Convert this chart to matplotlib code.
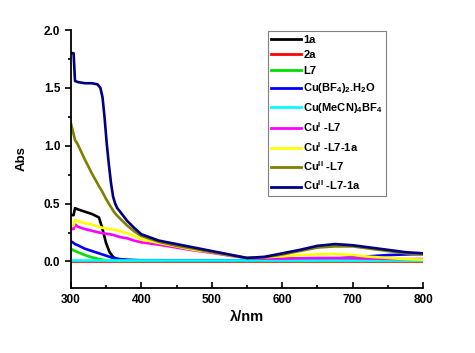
import matplotlib
matplotlib.use('Agg')
import matplotlib.pyplot as plt
from matplotlib.ticker import MultipleLocator

plt.rcParams['font.family'] = ['Liberation Sans', 'DejaVu Sans']
plt.rcParams['font.weight'] = 'bold'
plt.rcParams['mathtext.fontset'] = 'custom'
plt.rcParams['mathtext.rm'] = 'Liberation Sans:bold'
plt.rcParams['mathtext.it'] = 'Liberation Sans:bold'
plt.rcParams['mathtext.default'] = 'regular'

# wavelength grid (nm)
wl = [300, 304, 306, 310, 320, 330, 340, 345, 350, 355, 360, 365, 370, 380, 390, 400,
      425, 450, 475, 500, 525, 550, 575, 600, 625, 650, 675, 700, 725, 750, 775, 800]
# finer grid for the Cu(II)-L7-1a band edge
wl_fine = [300, 304, 306, 310, 320, 330, 338, 342, 345, 348, 351, 354, 357, 360, 363, 366, 370, 380, 390, 400,
           425, 450, 475, 500, 525, 550, 575, 600, 625, 650, 675, 700, 725, 750, 775, 800]

abs_1a = [0.40, 0.40, 0.46, 0.45, 0.43, 0.41, 0.38, 0.28, 0.16, 0.08, 0.04, 0.02, 0.012, 0.01, 0.01, 0.01,
          0.01, 0.01, 0.01, 0.01, 0.01, 0.01, 0.01, 0.01, 0.01, 0.01, 0.01, 0.01, 0.01, 0.01, 0.01, 0.01]
abs_2a = [0.0] * len(wl)
abs_L7 = [0.11, 0.095, 0.09, 0.08, 0.055, 0.035, 0.02, 0.015, 0.01, 0.007, 0.005, 0.005, 0.005, 0.005, 0.005, 0.005,
          0.005, 0.005, 0.005, 0.005, 0.005, 0.005, 0.005, 0.005, 0.005, 0.005, 0.005, 0.005, 0.005, 0.005, 0.005, 0.005]
abs_cubf4 = [0.175, 0.16, 0.15, 0.14, 0.11, 0.09, 0.07, 0.06, 0.05, 0.04, 0.03, 0.025, 0.02, 0.015, 0.012, 0.01,
             0.01, 0.009, 0.009, 0.008, 0.008, 0.008, 0.01, 0.012, 0.015, 0.02, 0.025, 0.035, 0.045, 0.055, 0.06, 0.065]
abs_cumecn = [0.01] * len(wl)
abs_cu1_L7 = [0.28, 0.28, 0.32, 0.30, 0.28, 0.265, 0.25, 0.245, 0.24, 0.235, 0.23, 0.22, 0.21, 0.20, 0.18, 0.165,
              0.145, 0.12, 0.095, 0.075, 0.05, 0.03, 0.025, 0.025, 0.028, 0.03, 0.03, 0.028, 0.025, 0.022, 0.02, 0.02]
abs_cu1_L7_1a = [0.31, 0.31, 0.36, 0.35, 0.33, 0.32, 0.30, 0.29, 0.285, 0.28, 0.275, 0.27, 0.26, 0.245, 0.22, 0.19,
                 0.16, 0.13, 0.10, 0.08, 0.055, 0.035, 0.035, 0.045, 0.055, 0.06, 0.065, 0.055, 0.04, 0.03, 0.02, 0.015]
abs_cu2_L7 = [1.20, 1.10, 1.05, 1.01, 0.88, 0.76, 0.65, 0.60, 0.54, 0.49, 0.44, 0.40, 0.37, 0.31, 0.26, 0.22,
              0.17, 0.135, 0.11, 0.08, 0.055, 0.03, 0.035, 0.06, 0.09, 0.12, 0.13, 0.13, 0.11, 0.09, 0.07, 0.06]
abs_cu2_L7_1a = [1.80, 1.80, 1.56, 1.55, 1.54, 1.54, 1.53, 1.50, 1.42, 1.24, 1.02, 0.84, 0.68, 0.56, 0.50, 0.46,
                 0.43, 0.35, 0.29, 0.235, 0.18, 0.15, 0.12, 0.09, 0.06, 0.03, 0.04, 0.07, 0.10, 0.135, 0.15, 0.14,
                 0.12, 0.10, 0.08, 0.07]

series = [
    ('1a', wl, abs_1a, 'black'),
    ('2a', wl, abs_2a, 'red'),
    ('L7', wl, abs_L7, '#00e000'),
    (r'Cu(BF$_4$)$_2$.H$_2$O', wl, abs_cubf4, '#0000ff'),
    (r'Cu(MeCN)$_4$BF$_4$', wl, abs_cumecn, 'cyan'),
    (r'Cu$^{I}$ -L7', wl, abs_cu1_L7, 'magenta'),
    (r'Cu$^{I}$ -L7-1a', wl, abs_cu1_L7_1a, 'yellow'),
    (r'Cu$^{II}$ -L7', wl, abs_cu2_L7, '#808000'),
    (r'Cu$^{II}$ -L7-1a', wl_fine, abs_cu2_L7_1a, '#000080'),
]

fig = plt.figure(figsize=(4.75, 3.53), dpi=100)
ax = fig.add_axes([0.149, 0.184, 0.742, 0.731])

for label, x, vals, col in series:
    ax.plot(x, vals, color=col, lw=1.9, label=label, solid_joinstyle='round')

ax.set_xlim(300, 800)
ax.set_ylim(-0.23, 2.0)
ax.xaxis.set_major_locator(MultipleLocator(100))
ax.xaxis.set_minor_locator(MultipleLocator(50))
ax.yaxis.set_major_locator(MultipleLocator(0.5))
ax.yaxis.set_minor_locator(MultipleLocator(0.25))
ax.spines['top'].set_visible(False)
ax.spines['right'].set_visible(False)
ax.spines['left'].set_linewidth(1.3)
ax.spines['bottom'].set_linewidth(1.3)
ax.tick_params(axis='x', direction='in', length=4, width=1.2, labelsize=8.5, pad=4)
ax.tick_params(axis='x', which='minor', direction='in', length=2.5, width=1.2)
ax.tick_params(axis='y', direction='out', length=4, width=1.2, labelsize=8.5)
ax.tick_params(axis='y', which='minor', direction='out', length=2.5, width=1.2)
ax.set_yticks([0.0, 0.5, 1.0, 1.5, 2.0])
ax.set_yticklabels(['0.0', '0.5', '1.0', '1.5', '2.0'])
ax.set_xlabel('λ/nm', fontsize=10.5, fontweight='bold', labelpad=3)
ax.set_ylabel('Abs', fontsize=9.5, fontweight='bold', labelpad=12)

leg = fig.legend(loc='upper left', bbox_to_anchor=(0.564, 0.911), fontsize=8,
                 frameon=True, fancybox=False, edgecolor='#808080', framealpha=1,
                 handlelength=2.7, handletextpad=0.2, labelspacing=0.5,
                 borderpad=0.3, borderaxespad=0)
leg.get_frame().set_linewidth(0.8)
for line in leg.get_lines():
    line.set_linewidth(2)

fig.savefig('out.png', dpi=100)
